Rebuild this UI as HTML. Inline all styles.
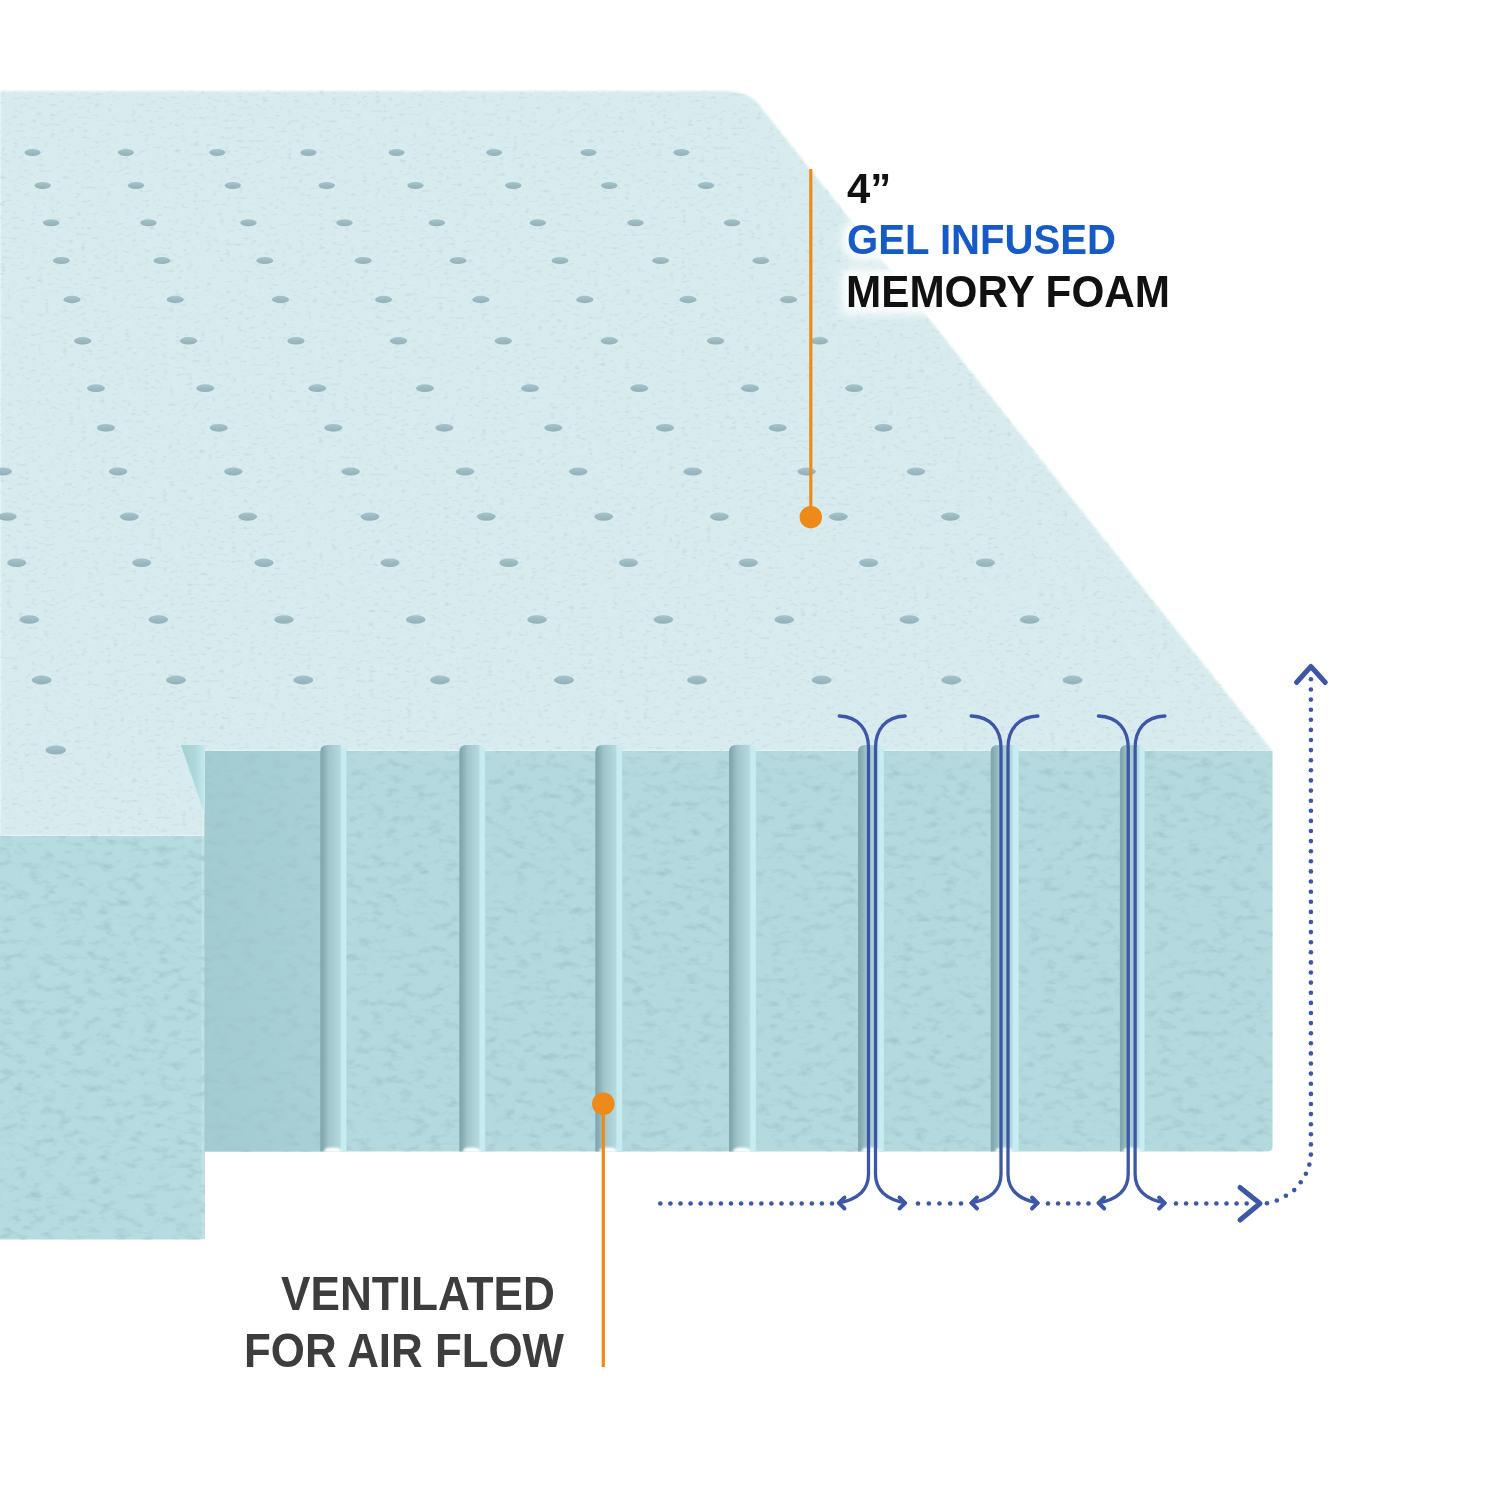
<!DOCTYPE html>
<html><head><meta charset="utf-8"><style>
html,body{margin:0;padding:0;background:#fff;}
body{width:1500px;height:1500px;overflow:hidden;position:relative;}
svg{position:absolute;left:0;top:0;}
.g{color:#fff !important;-webkit-text-stroke:13px #fff;filter:blur(5px);}
.t{position:absolute;transform-origin:0 0;font-family:"Liberation Sans",sans-serif;font-weight:bold;white-space:nowrap;line-height:1;}
</style></head><body>
<svg width="1500" height="1500" viewBox="0 0 1500 1500">
<defs>
<linearGradient id="gr" x1="0" x2="1" y1="0" y2="0">
<stop offset="0" stop-color="#80a5ad"/>
<stop offset="0.1" stop-color="#86acb3"/>
<stop offset="0.32" stop-color="#a0c6cc"/>
<stop offset="0.74" stop-color="#b3d9de"/>
<stop offset="0.8" stop-color="#c6ebee"/>
<stop offset="0.95" stop-color="#c9eef1"/>
<stop offset="1" stop-color="#bde1e5"/>
</linearGradient>
<linearGradient id="tri" x1="0" x2="1" y1="0" y2="0">
<stop offset="0" stop-color="#a3cfd3"/>
<stop offset="0.6" stop-color="#aed9dc"/>
<stop offset="1" stop-color="#c6eaee"/>
</linearGradient>
<linearGradient id="p1" x1="0" x2="1" y1="0" y2="0">
<stop offset="0" stop-color="#a2cbd2"/>
<stop offset="1" stop-color="#a8d0d6"/>
</linearGradient>
<linearGradient id="dg" x1="0" x2="0" y1="0" y2="1">
<stop offset="0" stop-color="#a8c3cb"/>
<stop offset="0.5" stop-color="#9cb9c1"/>
<stop offset="1" stop-color="#93b1b9"/>
</linearGradient>
<filter id="tex2" x="0" y="0" width="1500" height="1500" filterUnits="userSpaceOnUse">
<feTurbulence type="fractalNoise" baseFrequency="0.16 0.3" numOctaves="2" seed="11" result="n"/>
<feColorMatrix in="n" type="matrix" values="0 0 0 0 0.58  0 0 0 0 0.7  0 0 0 0 0.76  -3.0 0 0 0 1.3" result="sp"/>
<feComposite in="sp" in2="SourceGraphic" operator="in" result="sp2"/>
<feMerge><feMergeNode in="SourceGraphic"/><feMergeNode in="sp2"/></feMerge>
</filter>
<filter id="soft" x="-50%" y="-50%" width="200%" height="200%"><feGaussianBlur stdDeviation="0.8"/></filter>
<filter id="edge" x="-1%" y="-1%" width="102%" height="102%"><feGaussianBlur stdDeviation="1.1"/></filter>
<filter id="tex" x="0" y="0" width="100%" height="100%" filterUnits="userSpaceOnUse">
<feTurbulence type="fractalNoise" baseFrequency="0.07 0.13" numOctaves="3" seed="7" result="n"/>
<feColorMatrix in="n" type="matrix" values="0 0 0 0 0.35  0 0 0 0 0.55  0 0 0 0 0.6  -2.2 0 0 0 1.08" result="sp"/>
<feComposite in="sp" in2="SourceGraphic" operator="in" result="sp2"/>
<feMerge><feMergeNode in="SourceGraphic"/><feMergeNode in="sp2"/></feMerge>
</filter>
</defs>
<g filter="url(#tex2)"><g filter="url(#edge)">
<path d="M0,91 L726,91 Q744,91 756,101 L1272.5,751 L204.5,751 L204.5,836 L0,836 Z" fill="#d8ecef"/>
</g></g>
<g fill="url(#dg)">
<ellipse cx="32.5" cy="152.5" rx="8.00" ry="3.40"/>
<ellipse cx="125.9" cy="152.5" rx="8.00" ry="3.40"/>
<ellipse cx="217.3" cy="152.5" rx="8.00" ry="3.40"/>
<ellipse cx="308.5" cy="152.5" rx="8.00" ry="3.40"/>
<ellipse cx="396.6" cy="152.5" rx="8.00" ry="3.40"/>
<ellipse cx="494.1" cy="152.5" rx="8.00" ry="3.40"/>
<ellipse cx="588.5" cy="152.5" rx="8.00" ry="3.40"/>
<ellipse cx="681.3" cy="152.5" rx="8.00" ry="3.40"/>
<ellipse cx="42.7" cy="185.5" rx="8.13" ry="3.46"/>
<ellipse cx="136.0" cy="185.5" rx="8.13" ry="3.46"/>
<ellipse cx="232.8" cy="185.5" rx="8.13" ry="3.46"/>
<ellipse cx="326.7" cy="185.5" rx="8.13" ry="3.46"/>
<ellipse cx="415.5" cy="185.5" rx="8.13" ry="3.46"/>
<ellipse cx="513.3" cy="185.5" rx="8.13" ry="3.46"/>
<ellipse cx="609.3" cy="185.5" rx="8.13" ry="3.46"/>
<ellipse cx="706.1" cy="185.5" rx="8.13" ry="3.46"/>
<ellipse cx="51.2" cy="222.7" rx="8.27" ry="3.53"/>
<ellipse cx="148.5" cy="222.7" rx="8.27" ry="3.53"/>
<ellipse cx="248.5" cy="222.7" rx="8.27" ry="3.53"/>
<ellipse cx="344.5" cy="222.7" rx="8.27" ry="3.53"/>
<ellipse cx="436.8" cy="222.7" rx="8.27" ry="3.53"/>
<ellipse cx="537.9" cy="222.7" rx="8.27" ry="3.53"/>
<ellipse cx="635.5" cy="222.7" rx="8.27" ry="3.53"/>
<ellipse cx="732.0" cy="222.7" rx="8.27" ry="3.53"/>
<ellipse cx="61.3" cy="260.5" rx="8.41" ry="3.60"/>
<ellipse cx="161.9" cy="260.5" rx="8.41" ry="3.60"/>
<ellipse cx="264.8" cy="260.5" rx="8.41" ry="3.60"/>
<ellipse cx="363.2" cy="260.5" rx="8.41" ry="3.60"/>
<ellipse cx="458.1" cy="260.5" rx="8.41" ry="3.60"/>
<ellipse cx="560.0" cy="260.5" rx="8.41" ry="3.60"/>
<ellipse cx="660.5" cy="260.5" rx="8.41" ry="3.60"/>
<ellipse cx="760.8" cy="260.5" rx="8.41" ry="3.60"/>
<ellipse cx="72.0" cy="299.5" rx="8.56" ry="3.68"/>
<ellipse cx="175.2" cy="299.5" rx="8.56" ry="3.68"/>
<ellipse cx="280.5" cy="299.5" rx="8.56" ry="3.68"/>
<ellipse cx="383.6" cy="299.5" rx="8.56" ry="3.68"/>
<ellipse cx="480.8" cy="299.5" rx="8.56" ry="3.68"/>
<ellipse cx="584.8" cy="299.5" rx="8.56" ry="3.68"/>
<ellipse cx="688.0" cy="299.5" rx="8.56" ry="3.68"/>
<ellipse cx="788.5" cy="299.5" rx="8.56" ry="3.68"/>
<ellipse cx="82.7" cy="340.8" rx="8.71" ry="3.76"/>
<ellipse cx="188.5" cy="340.8" rx="8.71" ry="3.76"/>
<ellipse cx="296.0" cy="340.8" rx="8.71" ry="3.76"/>
<ellipse cx="398.6" cy="340.8" rx="8.71" ry="3.76"/>
<ellipse cx="503.3" cy="340.8" rx="8.71" ry="3.76"/>
<ellipse cx="609.3" cy="340.8" rx="8.71" ry="3.76"/>
<ellipse cx="715.6" cy="340.8" rx="8.71" ry="3.76"/>
<ellipse cx="819.4" cy="340.8" rx="8.71" ry="3.76"/>
<ellipse cx="96.0" cy="388.2" rx="8.89" ry="3.85"/>
<ellipse cx="205.3" cy="388.2" rx="8.89" ry="3.85"/>
<ellipse cx="317.3" cy="388.2" rx="8.89" ry="3.85"/>
<ellipse cx="425.0" cy="388.2" rx="8.89" ry="3.85"/>
<ellipse cx="530.0" cy="388.2" rx="8.89" ry="3.85"/>
<ellipse cx="639.3" cy="388.2" rx="8.89" ry="3.85"/>
<ellipse cx="750.0" cy="388.2" rx="8.89" ry="3.85"/>
<ellipse cx="854.1" cy="388.2" rx="8.89" ry="3.85"/>
<ellipse cx="105.9" cy="427.8" rx="9.04" ry="3.92"/>
<ellipse cx="218.7" cy="427.8" rx="9.04" ry="3.92"/>
<ellipse cx="333.3" cy="427.8" rx="9.04" ry="3.92"/>
<ellipse cx="444.3" cy="427.8" rx="9.04" ry="3.92"/>
<ellipse cx="553.3" cy="427.8" rx="9.04" ry="3.92"/>
<ellipse cx="665.0" cy="427.8" rx="9.04" ry="3.92"/>
<ellipse cx="777.7" cy="427.8" rx="9.04" ry="3.92"/>
<ellipse cx="883.5" cy="427.8" rx="9.04" ry="3.92"/>
<ellipse cx="2.7" cy="471.5" rx="9.21" ry="4.00"/>
<ellipse cx="118.1" cy="471.5" rx="9.21" ry="4.00"/>
<ellipse cx="233.3" cy="471.5" rx="9.21" ry="4.00"/>
<ellipse cx="350.7" cy="471.5" rx="9.21" ry="4.00"/>
<ellipse cx="465.0" cy="471.5" rx="9.21" ry="4.00"/>
<ellipse cx="578.3" cy="471.5" rx="9.21" ry="4.00"/>
<ellipse cx="692.7" cy="471.5" rx="9.21" ry="4.00"/>
<ellipse cx="806.7" cy="471.5" rx="9.21" ry="4.00"/>
<ellipse cx="916.0" cy="471.5" rx="9.21" ry="4.00"/>
<ellipse cx="7.3" cy="516.6" rx="9.38" ry="4.09"/>
<ellipse cx="129.3" cy="516.6" rx="9.38" ry="4.09"/>
<ellipse cx="247.7" cy="516.6" rx="9.38" ry="4.09"/>
<ellipse cx="370.0" cy="516.6" rx="9.38" ry="4.09"/>
<ellipse cx="486.3" cy="516.6" rx="9.38" ry="4.09"/>
<ellipse cx="603.7" cy="516.6" rx="9.38" ry="4.09"/>
<ellipse cx="719.4" cy="516.6" rx="9.38" ry="4.09"/>
<ellipse cx="838.4" cy="516.6" rx="9.38" ry="4.09"/>
<ellipse cx="950.4" cy="516.6" rx="9.38" ry="4.09"/>
<ellipse cx="16.7" cy="562.8" rx="9.56" ry="4.18"/>
<ellipse cx="141.7" cy="562.8" rx="9.56" ry="4.18"/>
<ellipse cx="264.0" cy="562.8" rx="9.56" ry="4.18"/>
<ellipse cx="390.0" cy="562.8" rx="9.56" ry="4.18"/>
<ellipse cx="508.9" cy="562.8" rx="9.56" ry="4.18"/>
<ellipse cx="628.4" cy="562.8" rx="9.56" ry="4.18"/>
<ellipse cx="748.3" cy="562.8" rx="9.56" ry="4.18"/>
<ellipse cx="868.7" cy="562.8" rx="9.56" ry="4.18"/>
<ellipse cx="985.4" cy="562.8" rx="9.56" ry="4.18"/>
<ellipse cx="29.3" cy="619.5" rx="9.77" ry="4.29"/>
<ellipse cx="158.3" cy="619.5" rx="9.77" ry="4.29"/>
<ellipse cx="284.0" cy="619.5" rx="9.77" ry="4.29"/>
<ellipse cx="415.7" cy="619.5" rx="9.77" ry="4.29"/>
<ellipse cx="537.0" cy="619.5" rx="9.77" ry="4.29"/>
<ellipse cx="663.4" cy="619.5" rx="9.77" ry="4.29"/>
<ellipse cx="784.3" cy="619.5" rx="9.77" ry="4.29"/>
<ellipse cx="909.3" cy="619.5" rx="9.77" ry="4.29"/>
<ellipse cx="1029.7" cy="619.5" rx="9.77" ry="4.29"/>
<ellipse cx="41.7" cy="680.0" rx="10.00" ry="4.40"/>
<ellipse cx="176.0" cy="680.0" rx="10.00" ry="4.40"/>
<ellipse cx="303.3" cy="680.0" rx="10.00" ry="4.40"/>
<ellipse cx="440.0" cy="680.0" rx="10.00" ry="4.40"/>
<ellipse cx="564.0" cy="680.0" rx="10.00" ry="4.40"/>
<ellipse cx="697.0" cy="680.0" rx="10.00" ry="4.40"/>
<ellipse cx="821.6" cy="680.0" rx="10.00" ry="4.40"/>
<ellipse cx="951.3" cy="680.0" rx="10.00" ry="4.40"/>
<ellipse cx="1072.6" cy="680.0" rx="10.00" ry="4.40"/>
<ellipse cx="55.8" cy="750.0" rx="10.27" ry="4.53"/>
</g>
<g filter="url(#tex)">
<path d="M0,836 L205,836 L205,1234 Q205,1239.5 199,1239.5 L0,1239.5 Z" fill="#b6dbe0"/>
<rect x="201.5" y="836" width="3.5" height="403" fill="#bfe2e6"/>
<path d="M204.5,751 L1272.5,751 L1272.5,1146 Q1272.5,1151.5 1267,1151.5 L204.5,1151.5 Z" fill="#b4d9de"/>
<rect x="204.5" y="751" width="116" height="400.5" fill="url(#p1)"/>
</g>
<path d="M181,745 L205,745 L205,815 Z" fill="url(#tri)"/>
<path d="M320.3,1151.5 L320.3,752 Q320.3,745 327.3,745 L339.7,745 Q346.7,745 346.7,752 L346.7,1151.5 Z" fill="url(#gr)"/>
<path d="M459.3,1151.5 L459.3,752 Q459.3,745 466.3,745 L478.3,745 Q485.3,745 485.3,752 L485.3,1151.5 Z" fill="url(#gr)"/>
<path d="M595.3,1151.5 L595.3,752 Q595.3,745 602.3,745 L615.5,745 Q622.5,745 622.5,752 L622.5,1151.5 Z" fill="url(#gr)"/>
<path d="M729.0,1151.5 L729.0,752 Q729.0,745 736.0,745 L749.2,745 Q756.2,745 756.2,752 L756.2,1151.5 Z" fill="url(#gr)"/>
<path d="M858.1,1151.5 L858.1,752 Q858.1,745 865.1,745 L877.2,745 Q884.2,745 884.2,752 L884.2,1151.5 Z" fill="url(#gr)"/>
<path d="M990.7,1151.5 L990.7,752 Q990.7,745 997.7,745 L1012.0,745 Q1019.0,745 1019.0,752 L1019.0,1151.5 Z" fill="url(#gr)"/>
<path d="M1119.9,1151.5 L1119.9,752 Q1119.9,745 1126.9,745 L1137.9,745 Q1144.9,745 1144.9,752 L1144.9,1151.5 Z" fill="url(#gr)"/>
<path d="M323.7,1152 C324.7,1148 327.7,1147.5 332.7,1147.5 C337.7,1147.5 340.7,1148 341.7,1152 Z" fill="#fff" filter="url(#soft)"/>
<path d="M462.5,1152 C463.5,1148 466.5,1147.5 471.5,1147.5 C476.5,1147.5 479.5,1148 480.5,1152 Z" fill="#fff" filter="url(#soft)"/>
<path d="M599.1,1152 C600.1,1148 603.1,1147.5 608.1,1147.5 C613.1,1147.5 616.1,1148 617.1,1152 Z" fill="#fff" filter="url(#soft)"/>
<path d="M732.8,1152 C733.8,1148 736.8,1147.5 741.8,1147.5 C746.8,1147.5 749.8,1148 750.8,1152 Z" fill="#fff" filter="url(#soft)"/>
<path d="M861.4,1152 C862.4,1148 865.4,1147.5 870.4,1147.5 C875.4,1147.5 878.4,1148 879.4,1152 Z" fill="#fff" filter="url(#soft)"/>
<path d="M995.0,1152 C996.0,1148 999.0,1147.5 1004.0,1147.5 C1009.0,1147.5 1012.0,1148 1013.0,1152 Z" fill="#fff" filter="url(#soft)"/>
<path d="M1122.7,1152 C1123.7,1148 1126.7,1147.5 1131.7,1147.5 C1136.7,1147.5 1139.7,1148 1140.7,1152 Z" fill="#fff" filter="url(#soft)"/>
<g fill="#ee8a1a">
<rect x="809.2" y="169" width="3.2" height="348"/>
<circle cx="810.8" cy="517.2" r="11.2"/>
<rect x="601.7" y="1104" width="3.2" height="263"/>
<circle cx="603.3" cy="1103.7" r="11.3"/>
</g>
<g fill="none" stroke="#3d57a6" stroke-width="3.3" stroke-linecap="round" stroke-linejoin="round">
<path d="M839.2,716 C858.5,716.5 868.5,730 868.5,748 L868.5,1174 C868.5,1193 854.5,1200 838.5,1203" />
<path d="M905.2,716 C885.5,716.5 875.5,730 875.5,748 L875.5,1174 C875.5,1193 889.5,1200 905.5,1203" />
<path d="M844.5,1197.5 L839.0,1203 L844.5,1208.5" stroke-width="3.9"/>
<path d="M899.5,1197.5 L905.0,1203 L899.5,1208.5" stroke-width="3.9"/>
<path d="M971.2,716 C991,716.5 1001,730 1001,748 L1001,1174 C1001,1193 987,1200 971,1203" />
<path d="M1037.9,716 C1018,716.5 1008,730 1008,748 L1008,1174 C1008,1193 1022,1200 1038,1203" />
<path d="M977,1197.5 L971.5,1203 L977,1208.5" stroke-width="3.9"/>
<path d="M1032,1197.5 L1037.5,1203 L1032,1208.5" stroke-width="3.9"/>
<path d="M1098.4,716 C1118.2,716.5 1128.2,730 1128.2,748 L1128.2,1174 C1128.2,1193 1114.2,1200 1098.2,1203" />
<path d="M1164.9,716 C1145.1,716.5 1135.1,730 1135.1,748 L1135.1,1174 C1135.1,1193 1149.1,1200 1165.1,1203" />
<path d="M1104.2,1197.5 L1098.7,1203 L1104.2,1208.5" stroke-width="3.9"/>
<path d="M1159.1,1197.5 L1164.6,1203 L1159.1,1208.5" stroke-width="3.9"/>
<path d="M1240,1187.5 L1260,1203.5 L1240,1220" stroke-width="5"/>
<path d="M1296.5,682.5 L1310.9,666.5 L1325.3,682.5" stroke-width="5"/>
</g>
<g fill="#3d57a6">
<circle cx="660.3" cy="1203.5" r="2.3"/>
<circle cx="670.4" cy="1203.5" r="2.3"/>
<circle cx="680.5" cy="1203.5" r="2.3"/>
<circle cx="690.6" cy="1203.5" r="2.3"/>
<circle cx="700.7" cy="1203.5" r="2.3"/>
<circle cx="710.8" cy="1203.5" r="2.3"/>
<circle cx="720.9" cy="1203.5" r="2.3"/>
<circle cx="731.0" cy="1203.5" r="2.3"/>
<circle cx="741.1" cy="1203.5" r="2.3"/>
<circle cx="751.2" cy="1203.5" r="2.3"/>
<circle cx="761.3" cy="1203.5" r="2.3"/>
<circle cx="771.4" cy="1203.5" r="2.3"/>
<circle cx="781.5" cy="1203.5" r="2.3"/>
<circle cx="791.6" cy="1203.5" r="2.3"/>
<circle cx="801.7" cy="1203.5" r="2.3"/>
<circle cx="811.8" cy="1203.5" r="2.3"/>
<circle cx="821.9" cy="1203.5" r="2.3"/>
<circle cx="832.0" cy="1203.5" r="2.3"/>
<circle cx="918.0" cy="1203.5" r="2.3"/>
<circle cx="928.8" cy="1203.5" r="2.3"/>
<circle cx="939.5" cy="1203.5" r="2.3"/>
<circle cx="950.2" cy="1203.5" r="2.3"/>
<circle cx="961.0" cy="1203.5" r="2.3"/>
<circle cx="1048.0" cy="1203.5" r="2.3"/>
<circle cx="1058.1" cy="1203.5" r="2.3"/>
<circle cx="1068.2" cy="1203.5" r="2.3"/>
<circle cx="1078.4" cy="1203.5" r="2.3"/>
<circle cx="1088.5" cy="1203.5" r="2.3"/>
<circle cx="1176.0" cy="1203.5" r="2.3"/>
<circle cx="1186.1" cy="1203.5" r="2.3"/>
<circle cx="1196.2" cy="1203.5" r="2.3"/>
<circle cx="1206.3" cy="1203.5" r="2.3"/>
<circle cx="1216.4" cy="1203.5" r="2.3"/>
<circle cx="1226.5" cy="1203.5" r="2.3"/>
<circle cx="1236.6" cy="1203.5" r="2.3"/>
<circle cx="1246.7" cy="1203.5" r="2.3"/>
<circle cx="1267" cy="1203.2" r="2.3"/>
<circle cx="1276.8" cy="1200.5" r="2.3"/>
<circle cx="1285.9" cy="1195.8" r="2.3"/>
<circle cx="1294.2" cy="1190.1" r="2.3"/>
<circle cx="1300.7" cy="1182.3" r="2.3"/>
<circle cx="1305.9" cy="1173.7" r="2.3"/>
<circle cx="1309.3" cy="1164.6" r="2.3"/>
<circle cx="1310.9" cy="1154.6" r="2.3"/>
<circle cx="1310.9" cy="1144.4" r="2.3"/>
<circle cx="1310.9" cy="1134.3" r="2.3"/>
<circle cx="1310.9" cy="1124.2" r="2.3"/>
<circle cx="1310.9" cy="1114.1" r="2.3"/>
<circle cx="1310.9" cy="1104.0" r="2.3"/>
<circle cx="1310.9" cy="1093.9" r="2.3"/>
<circle cx="1310.9" cy="1083.7" r="2.3"/>
<circle cx="1310.9" cy="1073.6" r="2.3"/>
<circle cx="1310.9" cy="1063.5" r="2.3"/>
<circle cx="1310.9" cy="1053.4" r="2.3"/>
<circle cx="1310.9" cy="1043.3" r="2.3"/>
<circle cx="1310.9" cy="1033.2" r="2.3"/>
<circle cx="1310.9" cy="1023.1" r="2.3"/>
<circle cx="1310.9" cy="1013.0" r="2.3"/>
<circle cx="1310.9" cy="1002.9" r="2.3"/>
<circle cx="1310.9" cy="992.8" r="2.3"/>
<circle cx="1310.9" cy="982.6" r="2.3"/>
<circle cx="1310.9" cy="972.5" r="2.3"/>
<circle cx="1310.9" cy="962.4" r="2.3"/>
<circle cx="1310.9" cy="952.3" r="2.3"/>
<circle cx="1310.9" cy="942.2" r="2.3"/>
<circle cx="1310.9" cy="932.1" r="2.3"/>
<circle cx="1310.9" cy="922.0" r="2.3"/>
<circle cx="1310.9" cy="911.9" r="2.3"/>
<circle cx="1310.9" cy="901.8" r="2.3"/>
<circle cx="1310.9" cy="891.7" r="2.3"/>
<circle cx="1310.9" cy="881.5" r="2.3"/>
<circle cx="1310.9" cy="871.4" r="2.3"/>
<circle cx="1310.9" cy="861.3" r="2.3"/>
<circle cx="1310.9" cy="851.2" r="2.3"/>
<circle cx="1310.9" cy="841.1" r="2.3"/>
<circle cx="1310.9" cy="831.0" r="2.3"/>
<circle cx="1310.9" cy="820.9" r="2.3"/>
<circle cx="1310.9" cy="810.8" r="2.3"/>
<circle cx="1310.9" cy="800.7" r="2.3"/>
<circle cx="1310.9" cy="790.6" r="2.3"/>
<circle cx="1310.9" cy="780.4" r="2.3"/>
<circle cx="1310.9" cy="770.3" r="2.3"/>
<circle cx="1310.9" cy="760.2" r="2.3"/>
<circle cx="1310.9" cy="750.1" r="2.3"/>
<circle cx="1310.9" cy="740.0" r="2.3"/>
<circle cx="1310.9" cy="729.9" r="2.3"/>
<circle cx="1310.9" cy="719.8" r="2.3"/>
<circle cx="1310.9" cy="709.7" r="2.3"/>
<circle cx="1310.9" cy="699.6" r="2.3"/>
<circle cx="1310.9" cy="689.5" r="2.3"/>
<circle cx="1310.9" cy="679.3" r="2.3"/>
</g>
</svg>
<div class="t g" style="left:847.04px;top:167.50px;font-size:41.75px;transform:scaleX(1.0018);">4”</div>
<div class="t g" style="left:847.02px;top:219.30px;font-size:41.75px;transform:scaleX(0.9609);">GEL INFUSED</div>
<div class="t g" style="left:845.91px;top:271.00px;font-size:43.5px;transform:scaleX(0.9717);">MEMORY FOAM</div>
<div class="t" style="left:847.04px;top:167.50px;font-size:41.75px;color:#111;transform:scaleX(1.0018);">4”</div>
<div class="t" style="left:847.02px;top:219.30px;font-size:41.75px;color:#165ac6;transform:scaleX(0.9609);">GEL INFUSED</div>
<div class="t" style="left:845.91px;top:271.00px;font-size:43.5px;color:#111;transform:scaleX(0.9717);">MEMORY FOAM</div>
<div class="t" style="left:280.60px;top:1270.10px;font-size:47.2px;color:#3d3d3d;transform:scaleX(0.9354);">VENTILATED</div>
<div class="t" style="left:244.15px;top:1326.90px;font-size:47.2px;color:#3d3d3d;transform:scaleX(0.9297);">FOR AIR FLOW</div>
</body></html>
